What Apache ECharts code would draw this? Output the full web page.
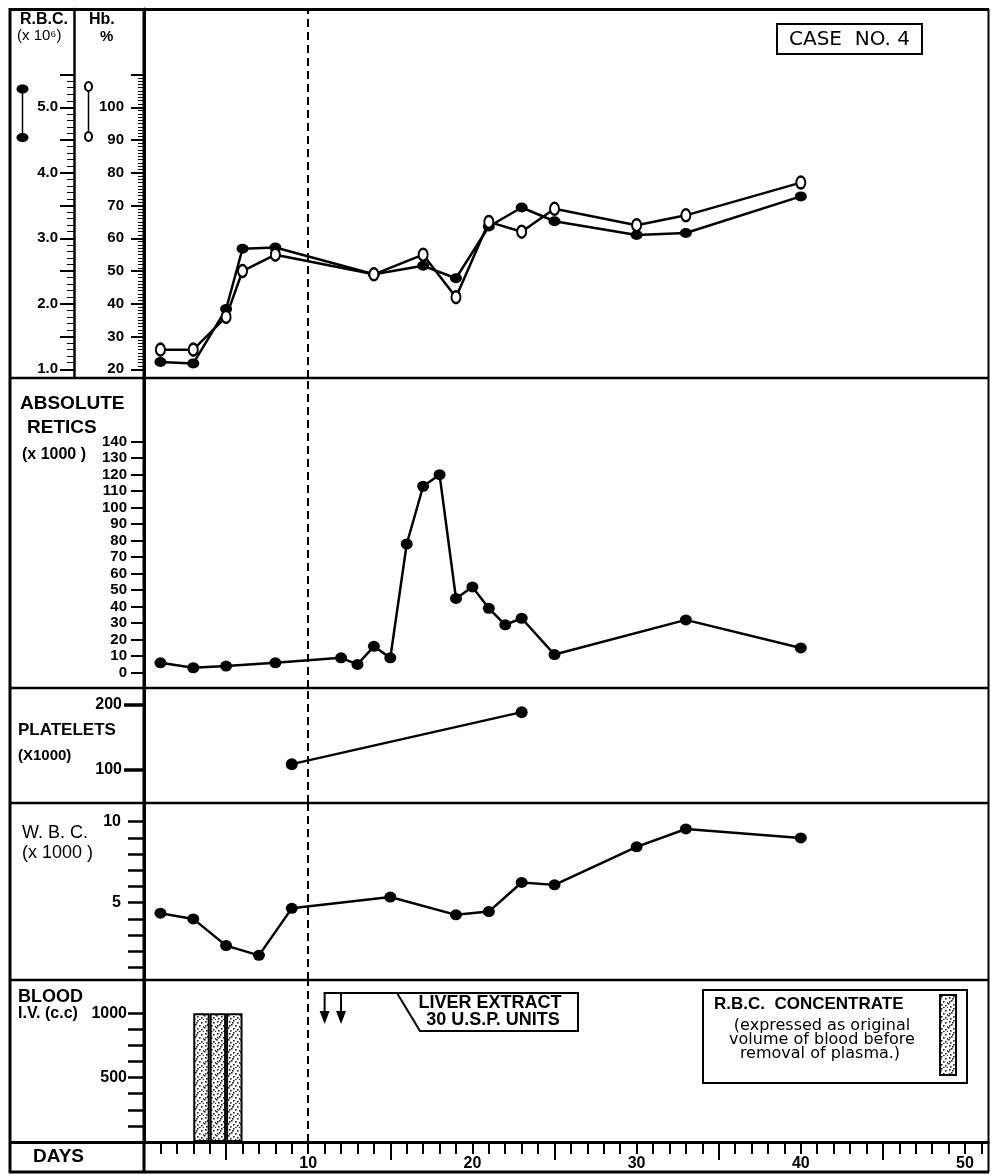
<!DOCTYPE html>
<html>
<head>
<meta charset="utf-8">
<script src="https://cdn.jsdelivr.net/npm/echarts@6/dist/echarts.min.js"></script>
<style>html,body{margin:0;padding:0;background:#fff}#c{width:991px;height:1175px}</style>
</head>
<body>
<div id="c"></div>
<script>
// ---------------- DATA ----------------
const rbcDays   = [1, 3, 5, 6, 8, 14, 17, 19, 21, 23, 25, 30, 33, 40];
const rbcValues = [1.11, 1.09, 1.92, 2.84, 2.86, 2.45, 2.58, 2.39, 3.18, 3.47, 3.26, 3.05, 3.08, 3.64];
const hbDays    = [1, 3, 5, 6, 8, 14, 17, 19, 21, 23, 25, 30, 33, 40];
const hbValues  = [26, 26, 36, 50, 55, 49, 55, 42, 65, 62, 69, 64, 67, 77];
const reticDays   = [1, 3, 5, 8, 12, 13, 14, 15, 16, 17, 18, 19, 20, 21, 22, 23, 25, 33, 40];
const reticValues = [6, 3, 4, 6, 9, 5, 16, 9, 78, 113, 120, 45, 52, 39, 29, 33, 11, 32, 15];
const plateletDays   = [9, 23];
const plateletValues = [109, 189];
const wbcDays   = [1, 3, 5, 7, 9, 15, 19, 21, 23, 25, 30, 33, 40];
const wbcValues = [4.35, 4.0, 2.35, 1.75, 4.65, 5.35, 4.25, 4.45, 6.25, 6.1, 8.45, 9.55, 9.0];
const bloodStartDays = [3, 4, 5];          // each transfusion spans one day
const bloodValues    = [1000, 1000, 1000]; // c.c.
const liverExtractDays = [11, 12];
const markerDay = 10;                      // dashed vertical line
// tick labels
const dayLabels   = [10, 20, 30, 40, 50];
const rbcLabels   = [1, 2, 3, 4, 5];
const hbLabels    = [20, 30, 40, 50, 60, 70, 80, 90, 100];
const reticLabels = [0, 10, 20, 30, 40, 50, 60, 70, 80, 90, 100, 110, 120, 130, 140];
const plateletLabels = [100, 200];
const wbcLabels   = [5, 10];
const bloodLabels = [500, 1000];

// ---------------- helpers ----------------
const range = (a, b, s) => { const r = []; for (let v = a; v <= b + 1e-9; v += s) r.push(+v.toFixed(4)); return r; };
const zip = (xs, ys) => xs.map((x, i) => [x, ys[i]]);
const BOLD = "'Liberation Sans', Arial, sans-serif";
const SOFT = "'DejaVu Sans', Verdana, sans-serif";
const plain = v => String(v);

function stipple() {
  const c = document.createElement('canvas'); c.width = 12; c.height = 12;
  const g = c.getContext('2d');
  g.fillStyle = '#fff'; g.fillRect(0, 0, 12, 12);
  g.fillStyle = '#222';
  [[1,1],[5,0],[9,2],[3,4],[7,5],[11,6],[0,7],[5,8],[9,9],[2,10],[7,11],[11,11],[4,2],[1,5]]
    .forEach(([x, y]) => g.fillRect(x, y, 1.6, 1.6));
  return c;
}
const pat = stipple();
const patFill = { image: pat, repeat: 'repeat' };

const X_MAX = 51.4;
const blk = '#000';
const hiddenX = i => ({ type: 'value', gridIndex: i, min: 0, max: X_MAX, show: false });
const lbl = (o) => Object.assign({ color: blk, fontFamily: BOLD, fontWeight: 'bold', fontSize: 15, formatter: plain }, o);
function yAx(o) {
  return Object.assign({
    type: 'value', position: 'left', splitLine: { show: false },
    axisLine: { show: true, lineStyle: { color: blk, width: 3 } },
    axisTick: { show: true, lineStyle: { color: blk, width: 2 } },
    axisLabel: lbl({})
  }, o);
}
const dash = { silent: true, symbol: ['none', 'none'], label: { show: false },
  lineStyle: { color: blk, type: [8, 5], width: 2 }, data: [{ xAxis: markerDay }] };

const chart = echarts.init(document.getElementById('c'), null, { renderer: 'canvas' });

const option = {
  animation: false,
  backgroundColor: '#fff',
  grid: [
    { left: 144, right: 3, top: 9, height: 369 },
    { left: 144, right: 3, top: 378, height: 310 },
    { left: 144, right: 3, top: 688, height: 115 },
    { left: 144, right: 3, top: 803, height: 177 },
    { left: 144, right: 3, top: 980, height: 162 }
  ],
  xAxis: [
    hiddenX(0), hiddenX(1), hiddenX(2), hiddenX(3),
    { type: 'value', gridIndex: 4, position: 'bottom', min: 0, max: X_MAX, splitLine: { show: false },
      axisLine: { show: true, lineStyle: { color: blk, width: 3 } },
      axisTick: { show: true, customValues: range(1, 51, 1), length: 12, lineStyle: { color: blk, width: 2 } },
      axisLabel: lbl({ customValues: dayLabels, margin: 14, fontSize: 16 }) },
    { type: 'value', gridIndex: 4, position: 'bottom', offset: 0, min: 0, max: X_MAX, splitLine: { show: false },
      axisLine: { show: false },
      axisTick: { show: true, customValues: [5, 15, 25, 35, 45], length: 18, lineStyle: { color: blk, width: 2 } },
      axisLabel: { show: false } }
  ],
  yAxis: [
    // 0 Hb (main)
    yAx({ gridIndex: 0, min: 17.34, max: 130, offset: 0,
      axisTick: { show: true, customValues: range(20, 110, 10), length: 13, lineStyle: { color: blk, width: 2 } },
      axisLabel: lbl({ customValues: hbLabels, margin: 20 }) }),
    // 1 Hb fine ticks
    yAx({ gridIndex: 0, min: 17.34, max: 130, offset: 0, axisLine: { show: false },
      axisTick: { show: true, customValues: range(20, 110, 1), length: 6, lineStyle: { color: blk, width: 1 } },
      axisLabel: { show: false } }),
    // 2 RBC (main)
    yAx({ gridIndex: 0, min: 0.867, max: 6.501, offset: 70,
      axisLine: { show: true, lineStyle: { color: blk, width: 2.5 } },
      axisTick: { show: true, customValues: range(1, 5.5, 0.5), length: 14, lineStyle: { color: blk, width: 2 } },
      axisLabel: lbl({ customValues: rbcLabels, margin: 16, formatter: v => (+v).toFixed(1) }) }),
    // 3 RBC fine ticks
    yAx({ gridIndex: 0, min: 0.867, max: 6.501, offset: 70, axisLine: { show: false },
      axisTick: { show: true, customValues: range(1, 5.5, 0.1), length: 7, lineStyle: { color: blk, width: 1 } },
      axisLabel: { show: false } }),
    // 4 Retics
    yAx({ gridIndex: 1, min: -9.27, max: 178.6,
      axisTick: { show: true, customValues: reticLabels, length: 13, lineStyle: { color: blk, width: 2 } },
      axisLabel: lbl({ customValues: reticLabels, margin: 17 }) }),
    // 5 Platelets
    yAx({ gridIndex: 2, min: 49.2, max: 226.2,
      axisTick: { show: true, customValues: plateletLabels, length: 20, lineStyle: { color: blk, width: 3.5 } },
      axisLabel: lbl({ customValues: plateletLabels, margin: 22, fontSize: 16 }) }),
    // 6 WBC
    yAx({ gridIndex: 3, min: 0.228, max: 11.154,
      axisTick: { show: true, customValues: range(1, 10, 1), length: 16, lineStyle: { color: blk, width: 2.5 } },
      axisLabel: lbl({ customValues: wbcLabels, margin: 23, fontSize: 16 }) }),
    // 7 Blood
    yAx({ gridIndex: 4, min: 0, max: 1258.7,
      axisTick: { show: true, customValues: range(125, 1000, 125), length: 16, lineStyle: { color: blk, width: 2.5 } },
      axisLabel: lbl({ customValues: bloodLabels, margin: 17, fontSize: 16 }) })
  ],
  series: [
    { name: 'RBC', type: 'line', xAxisIndex: 0, yAxisIndex: 2, data: zip(rbcDays, rbcValues),
      symbol: 'circle', symbolSize: [12, 10], itemStyle: { color: blk },
      lineStyle: { color: blk, width: 2.5 }, markLine: dash, z: 3 },
    { name: 'Hb', type: 'line', xAxisIndex: 0, yAxisIndex: 0, data: zip(hbDays, hbValues),
      symbol: 'circle', symbolSize: [9, 12], showAllSymbol: true,
      itemStyle: { color: '#fff', borderColor: blk, borderWidth: 2.2 },
      lineStyle: { color: blk, width: 2.5 }, z: 4 },
    { name: 'Retics', type: 'line', xAxisIndex: 1, yAxisIndex: 4, data: zip(reticDays, reticValues),
      symbol: 'circle', symbolSize: [12, 11], itemStyle: { color: blk },
      lineStyle: { color: blk, width: 2.5 }, markLine: dash },
    { name: 'Platelets', type: 'line', xAxisIndex: 2, yAxisIndex: 5, data: zip(plateletDays, plateletValues),
      symbol: 'circle', symbolSize: [12, 12], itemStyle: { color: blk },
      lineStyle: { color: blk, width: 2.2 }, markLine: dash },
    { name: 'WBC', type: 'line', xAxisIndex: 3, yAxisIndex: 6, data: zip(wbcDays, wbcValues),
      symbol: 'circle', symbolSize: [12, 11], itemStyle: { color: blk },
      lineStyle: { color: blk, width: 2.5 }, markLine: dash },
    { name: 'Blood', type: 'bar', xAxisIndex: 4, yAxisIndex: 7,
      data: zip(bloodStartDays.map(d => d + 0.5), bloodValues),
      barWidth: 16.4, barGap: '-100%',
      itemStyle: { color: patFill, borderColor: blk, borderWidth: 2 }, markLine: dash }
  ]
};
chart.setOption(option);

// ---------------- annotations ----------------
const G = [];
const L = (x1, y1, x2, y2, w) => G.push({ type: 'line', z: 50, silent: true,
  shape: { x1, y1, x2, y2 }, style: { stroke: blk, lineWidth: w || 2.5 } });
const T = (x, y, text, font, align, extra) => G.push({ type: 'text', z: 60, silent: true, x, y,
  style: Object.assign({ text, font, fill: blk, align: align || 'left', verticalAlign: 'middle' }, extra || {}) });

// frame & dividers
L(10, 8, 10, 1173, 3);
L(9, 9.5, 989, 9.5, 3);
L(988.5, 9, 988.5, 1172, 2);
L(9, 1172, 989, 1172, 3);
L(144, 9, 144, 1172, 3);
[378, 688, 803, 980].forEach(y => L(9, y, 989, y, 2.5));
L(9, 1142.5, 146, 1142.5, 3);

// top panel headers
T(20, 20, 'R.B.C.', `bold 16px ${BOLD}`);
T(17, 36, '(x 10⁶)', `15px ${BOLD}`);
T(89, 20, 'Hb.', `bold 16px ${BOLD}`);
T(100, 37, '%', `bold 15px ${BOLD}`);
// legend glyphs RBC (filled) / Hb (open)
L(22.5, 92, 22.5, 134, 1.5);
G.push({ type: 'ellipse', z: 61, shape: { cx: 22.5, cy: 89, rx: 6, ry: 4.5 }, style: { fill: blk } });
G.push({ type: 'ellipse', z: 61, shape: { cx: 22.5, cy: 137.5, rx: 6, ry: 4.5 }, style: { fill: blk } });
L(88.5, 92, 88.5, 132, 1.5);
G.push({ type: 'ellipse', z: 61, shape: { cx: 88.5, cy: 86.5, rx: 3.5, ry: 4.5 }, style: { fill: '#fff', stroke: blk, lineWidth: 2 } });
G.push({ type: 'ellipse', z: 61, shape: { cx: 88.5, cy: 136.5, rx: 3.5, ry: 4.5 }, style: { fill: '#fff', stroke: blk, lineWidth: 2 } });

// panel titles
T(20, 404, 'ABSOLUTE', `bold 19px ${BOLD}`);
T(27, 428, 'RETICS', `bold 19px ${BOLD}`);
T(22, 455, '(x 1000 )', `bold 16px ${BOLD}`);
T(18, 730, 'PLATELETS', `bold 17px ${BOLD}`);
T(18, 756, '(X1000)', `bold 15px ${BOLD}`);
T(22, 833, 'W. B. C.', `18px ${BOLD}`);
T(22, 853, '(x 1000 )', `18px ${BOLD}`);
T(18, 997, 'BLOOD', `bold 18px ${BOLD}`);
T(18, 1014, 'I.V. (c.c)', `bold 16px ${BOLD}`);
T(33, 1157, 'DAYS', `bold 19px ${BOLD}`);

// CASE NO. 4
G.push({ type: 'rect', z: 55, shape: { x: 777, y: 24, width: 145, height: 30 }, style: { fill: '#fff', stroke: blk, lineWidth: 2 } });
T(849.5, 39.5, 'CASE  NO. 4', `20px ${SOFT}`, 'center');

// Liver extract call-out (arrows positioned on the day axis)
const lx = liverExtractDays.map(d => chart.convertToPixel({ xAxisIndex: 4 }, d));
const topY = 993, boxR = 578, boxB = 1031;
G.push({ type: 'polyline', z: 50, shape: { points: [[lx[0] - 1, topY], [boxR, topY], [boxR, boxB], [420, boxB], [397, topY]] },
  style: { stroke: blk, lineWidth: 2, fill: null } });
lx.forEach(x => {
  L(x, topY, x, 1014, 2);
  G.push({ type: 'polygon', z: 51, shape: { points: [[x - 5, 1011], [x + 5, 1011], [x, 1024]] }, style: { fill: blk } });
});
T(490, 1003, 'LIVER EXTRACT', `bold 18px ${BOLD}`, 'center');
T(493, 1020, '30 U.S.P. UNITS', `bold 18px ${BOLD}`, 'center');

// R.B.C. concentrate legend box
G.push({ type: 'rect', z: 55, shape: { x: 703, y: 990, width: 264, height: 93 }, style: { fill: '#fff', stroke: blk, lineWidth: 2 } });
T(714, 1004, 'R.B.C.  CONCENTRATE', `bold 17px ${BOLD}`);
L(713, 1014, 928, 1014, 1.5);
T(822, 1026, '(expressed as original', `16px ${SOFT}`, 'center');
T(822, 1040, 'volume of blood before', `16px ${SOFT}`, 'center');
T(820, 1054, 'removal of plasma.)', `16px ${SOFT}`, 'center');
G.push({ type: 'rect', z: 56, shape: { x: 940, y: 995, width: 16, height: 80 }, style: { fill: patFill, stroke: blk, lineWidth: 2 } });

chart.setOption({ graphic: { elements: G } });
</script>
</body>
</html>
